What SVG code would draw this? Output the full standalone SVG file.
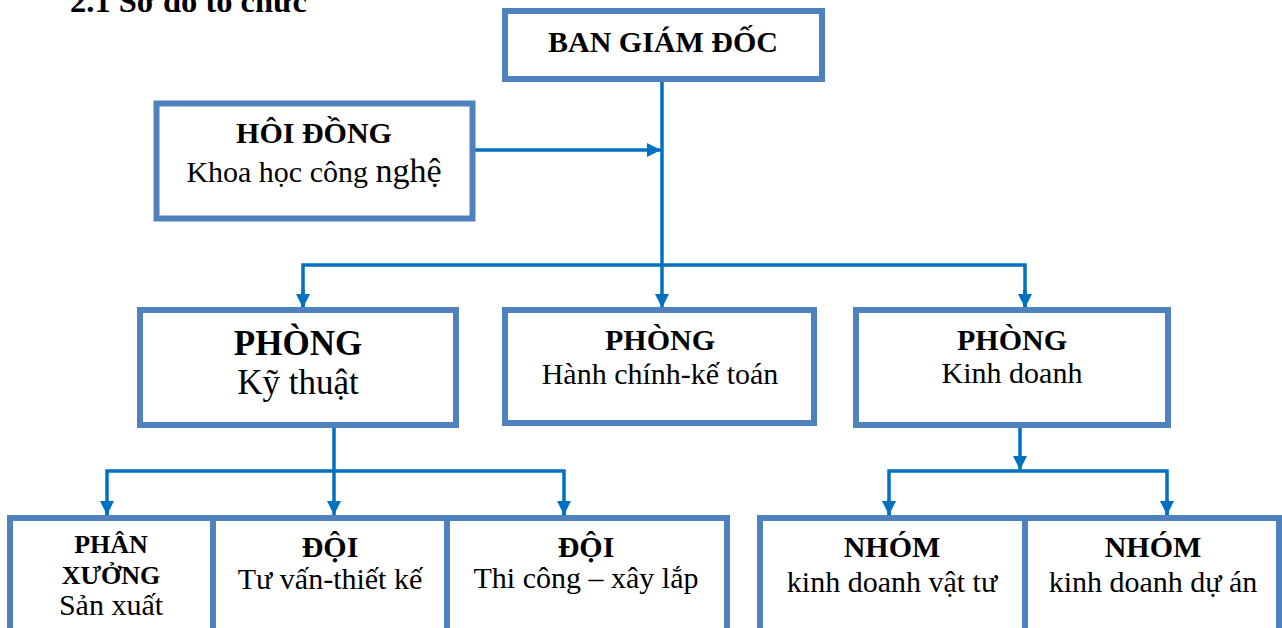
<svg xmlns="http://www.w3.org/2000/svg" width="1282" height="628" viewBox="0 0 1282 628">
<defs>
<style>
.box{fill:#fff;stroke:#4F81BD;stroke-width:6}
.con{fill:none;stroke:#0070C0;stroke-width:3.5}
text{font-family:"Liberation Serif","Times New Roman",serif;fill:#000;text-anchor:middle}
.b{font-weight:bold}
</style>
<marker id="ah" markerUnits="userSpaceOnUse" markerWidth="14" markerHeight="14" refX="14" refY="7" orient="auto" viewBox="0 0 14 14">
<path d="M0,0 L14,7 L0,14 z" fill="#0070C0"/>
</marker>
</defs>
<rect width="1282" height="628" fill="#fff"/>
<text class="b" x="70" y="12" font-size="32.5" style="text-anchor:start">2.1 Sơ đồ tổ chức</text>

<g id="connectors">
<line class="con" x1="662" y1="82" x2="662" y2="308" marker-end="url(#ah)"/>
<line class="con" x1="475" y1="150" x2="661" y2="150" marker-end="url(#ah)"/>
<polyline class="con" points="303,308 303,265 1025,265 1025,308"/>
<line class="con" x1="303" y1="290" x2="303" y2="308" marker-end="url(#ah)"/>
<line class="con" x1="1025" y1="290" x2="1025" y2="308" marker-end="url(#ah)"/>
<line class="con" x1="334" y1="428" x2="334" y2="515" marker-end="url(#ah)"/>
<polyline class="con" points="107,515 107,471 564,471 564,515"/>
<line class="con" x1="107" y1="500" x2="107" y2="515" marker-end="url(#ah)"/>
<line class="con" x1="564" y1="500" x2="564" y2="515" marker-end="url(#ah)"/>
<line class="con" x1="1020" y1="428" x2="1020" y2="470" marker-end="url(#ah)"/>
<polyline class="con" points="889,515 889,471 1167,471 1167,515"/>
<line class="con" x1="889" y1="500" x2="889" y2="515" marker-end="url(#ah)"/>
<line class="con" x1="1167" y1="500" x2="1167" y2="515" marker-end="url(#ah)"/>
</g>

<g id="ban-giam-doc">
<rect class="box" x="505" y="11" width="317" height="68"/>
<text class="b" x="663" y="52" font-size="30">BAN GIÁM ĐỐC</text>
</g>

<g id="hoi-dong">
<rect class="box" x="156.5" y="103.5" width="316" height="115"/>
<text class="b" x="314" y="143" font-size="30">HÔI ĐỒNG</text>
<text x="314" y="182" font-size="30">Khoa học công <tspan font-size="34">nghệ</tspan></text>
</g>

<g id="phong-ky-thuat">
<rect class="box" x="140" y="310" width="316" height="115"/>
<text class="b" x="298" y="355" font-size="35">PHÒNG</text>
<text x="298" y="394" font-size="35">Kỹ thuật</text>
</g>

<g id="phong-hanh-chinh">
<rect class="box" x="505" y="310" width="309" height="113"/>
<text class="b" x="660" y="350" font-size="30">PHÒNG</text>
<text x="660" y="384" font-size="30">Hành chính-kế toán</text>
</g>

<g id="phong-kinh-doanh">
<rect class="box" x="856" y="310" width="312" height="115"/>
<text class="b" x="1012" y="350" font-size="30">PHÒNG</text>
<text x="1012" y="383" font-size="30">Kinh doanh</text>
</g>

<g id="phan-xuong">
<rect class="box" x="10" y="518" width="203" height="140"/>
<text class="b" x="111" y="553" font-size="26">PHÂN</text>
<text class="b" x="111" y="584" font-size="26">XƯỞNG</text>
<text x="111" y="615" font-size="30">Sản xuất</text>
</g>

<g id="doi-tu-van">
<rect class="box" x="213" y="518" width="234" height="140"/>
<text class="b" x="330" y="557" font-size="30">ĐỘI</text>
<text x="330" y="589" font-size="30">Tư vấn-thiết kế</text>
</g>

<g id="doi-thi-cong">
<rect class="box" x="447" y="518" width="280" height="140"/>
<text class="b" x="586" y="557" font-size="30">ĐỘI</text>
<text x="586" y="588" font-size="30">Thi công – xây lắp</text>
</g>

<g id="nhom-vat-tu">
<rect class="box" x="760" y="518" width="265" height="140"/>
<text class="b" x="892" y="557" font-size="30">NHÓM</text>
<text x="892" y="592" font-size="30">kinh doanh vật tư</text>
</g>

<g id="nhom-du-an">
<rect class="box" x="1025" y="518" width="254" height="140"/>
<text class="b" x="1153" y="557" font-size="30">NHÓM</text>
<text x="1153" y="592" font-size="30">kinh doanh dự án</text>
</g>
</svg>
